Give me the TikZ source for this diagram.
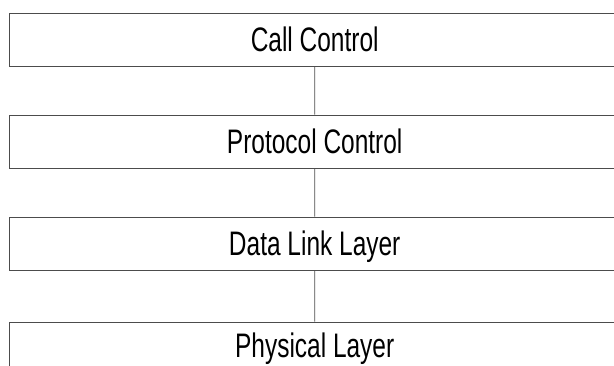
\documentclass[tikz,border=0pt]{standalone}
\usepackage{fontspec}
\setmainfont{Liberation Sans}
\usepackage{tikz}
\usepackage{xcolor}
\newcommand{\layername}[1]{\scalebox{0.72}[1]{#1}}

\begin{document}
\begin{tikzpicture}[level distance=102pt,
                layer/.style={draw=black!70, line width=0.9pt, rectangle,
                        minimum width=610.4pt, minimum height=53pt, inner sep=0pt,
                        text height=24.3pt, text depth=0pt,
                        font=\fontsize{34}{34}\selectfont},
                every child node/.style={layer},
                edge from parent/.style={draw=black!70, line width=0.9pt}]
                \useasboundingbox (0,0) rectangle (614pt,366pt);
                \clip (0,0) rectangle (614pt,366pt);
                \node[layer] (callctrl) at (314.7pt,326.5pt) {\layername{Call Control}}
                        child{node (protoctrl) {\layername{Protocol Control}}
                            child{node (datalink) {\layername{Data Link Layer}}
                                child{node[minimum height=47pt] (physical) {\layername{Physical Layer}}}
                            }
                        }
                ;
            \end{tikzpicture}
\end{document}
